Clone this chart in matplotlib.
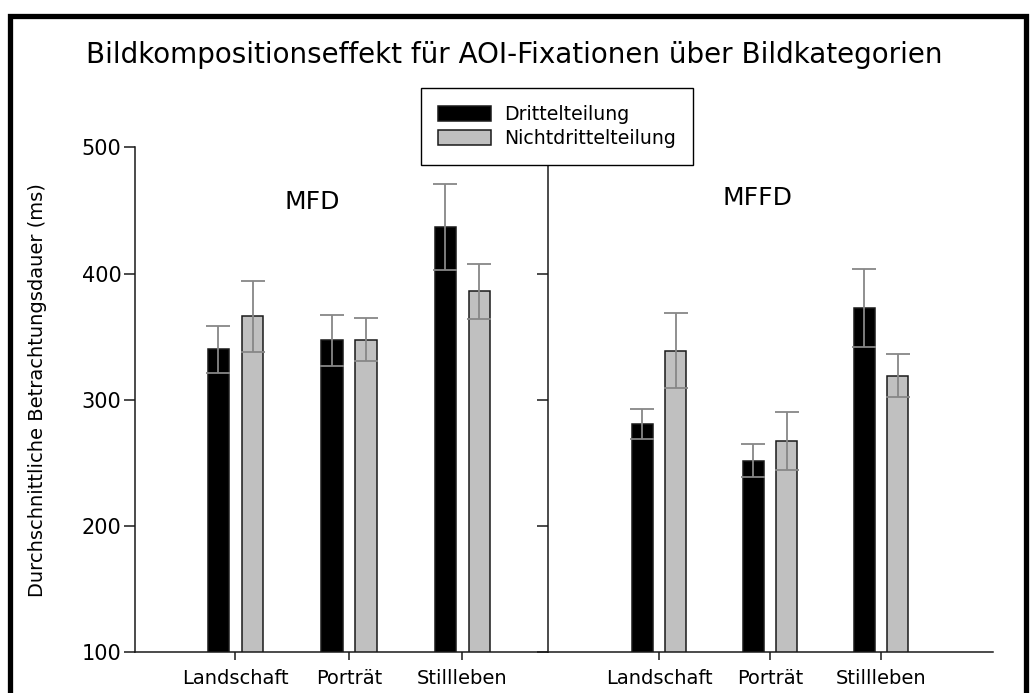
import numpy as np
import matplotlib
matplotlib.use("Agg")
import matplotlib.pyplot as plt
from matplotlib.patches import Rectangle

# mean viewing duration (ms) and error per image category
categories = ["Landschaft", "Porträt", "Stillleben"]
series = ["Drittelteilung", "Nichtdrittelteilung"]

mfd_thirds = [340, 347, 437]
mfd_thirds_err = [18.5, 20.5, 34]
mfd_nonthirds = [366, 347.5, 386]
mfd_nonthirds_err = [28, 17, 22]

mffd_thirds = [281, 251.5, 372.5]
mffd_thirds_err = [12, 13, 31]
mffd_nonthirds = [339, 267.5, 319]
mffd_nonthirds_err = [29.5, 23, 17]

yticks = [100, 200, 300, 400, 500]

bar_colors = ["black", "#c0c0c0"]
err_color = "#878787"
line_col = "#1a1a1a"

fig = plt.figure(figsize=(10.32, 6.93), dpi=100)
ax1 = fig.add_axes([0.1312, 0.0592, 0.3998, 0.728])
ax2 = fig.add_axes([0.531, 0.0592, 0.4312, 0.728])

x = np.arange(1, len(categories) + 1)
width = 0.19
offset = 0.15


def draw_panel(ax, thirds, thirds_err, nonthirds, nonthirds_err, xlim, label, label_xy):
    for vals, errs, col, dx, name in [
        (thirds, thirds_err, bar_colors[0], -offset, series[0]),
        (nonthirds, nonthirds_err, bar_colors[1], offset, series[1]),
    ]:
        ax.bar(x + dx, vals, width=width, bottom=0, color=col, edgecolor=line_col,
               linewidth=1.1, label=name, zorder=2)
        ax.errorbar(x + dx, vals, yerr=errs, fmt="none", ecolor=err_color,
                    elinewidth=1.3, capsize=8.5, capthick=1.3, zorder=3)
    ax.set_xlim(*xlim)
    ax.set_ylim(100, 500)
    ax.set_yticks(yticks)
    ax.set_xticks(x)
    ax.set_xticklabels(categories, fontsize=14)
    for side in ["top", "right"]:
        ax.spines[side].set_visible(False)
    for side in ["left", "bottom"]:
        ax.spines[side].set_linewidth(1.1)
        ax.spines[side].set_color(line_col)
    ax.tick_params(axis="x", direction="out", length=5.5, width=1.1, pad=7, color=line_col)
    ax.tick_params(axis="y", direction="out", length=8, width=1.1, pad=2, color=line_col,
                   labelsize=15)
    ax.text(label_xy[0], label_xy[1], label, fontsize=18, ha="center", va="center")


draw_panel(ax1, mfd_thirds, mfd_thirds_err, mfd_nonthirds, mfd_nonthirds_err,
           (0.118, 3.754), "MFD", (1.68, 457))
draw_panel(ax2, mffd_thirds, mffd_thirds_err, mffd_nonthirds, mffd_nonthirds_err,
           (0.0, 4.01), "MFFD", (1.89, 460))
ax2.tick_params(axis="y", labelleft=False)

ax1.set_ylabel("Durchschnittliche Betrachtungsdauer (ms)", fontsize=14)
ax1.yaxis.set_label_coords(-0.215, 0.52)

fig.text(0.498, 1 - 55 / 693, "Bildkompositionseffekt für AOI-Fixationen über Bildkategorien",
         fontsize=20, ha="center", va="center")

handles, labels = ax1.get_legend_handles_labels()
leg = fig.legend(handles, labels, loc="upper left", bbox_to_anchor=(421 / 1032, 1 - 88 / 693),
                 fontsize=13.6, frameon=True, fancybox=False, edgecolor="black",
                 framealpha=1, handlelength=2.8, handleheight=0.8, handletextpad=0.7,
                 labelspacing=0.26, borderpad=0.9, borderaxespad=0)
leg.get_frame().set_linewidth(1.0)

# heavy frame around the whole figure
fig.patches.append(Rectangle((10 / 1032, -0.02), 1016 / 1032, 1.02 - 16 / 693,
                             transform=fig.transFigure, fill=False,
                             edgecolor="black", linewidth=3.8))

fig.savefig("out.png", dpi=100)
